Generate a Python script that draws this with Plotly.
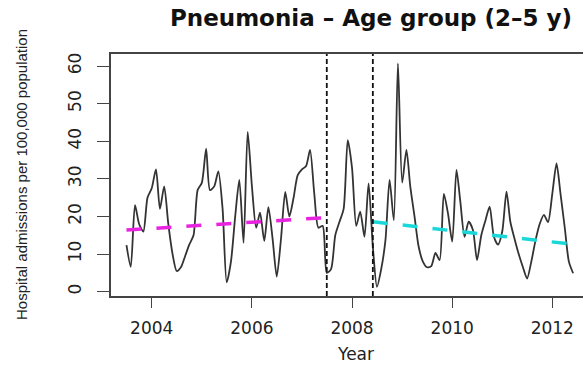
import numpy as np
import pandas as pd
import plotly.graph_objects as go

# Monthly hospital admissions for pneumonia, children aged 2-5 years,
# per 100,000 population, July 2003 - June 2012
admissions = [
    12.4, 6.6, 23.0, 18.0, 16.0, 25.0, 27.5, 32.5, 22.0, 28.0, 18.0, 10.0,
    5.5, 6.5, 9.5, 12.5, 15.0, 27.0, 29.0, 38.0, 27.0, 28.0, 32.0, 22.0,
    2.5, 8.0, 20.0, 29.7, 13.0, 42.5, 28.0, 17.0, 21.0, 13.5, 22.5, 14.0,
    4.0, 14.0, 26.5, 20.0, 25.0, 31.0, 32.5, 33.5, 37.7, 26.0, 17.0, 17.5,
    5.0, 6.0, 15.0, 18.5, 22.0, 40.3, 33.0, 17.5, 21.3, 14.6, 28.8, 12.0,
    1.3, 6.0, 13.7, 29.7, 19.0, 60.7, 29.0, 37.7, 28.0, 20.0, 12.0, 8.0,
    6.5, 6.8, 10.3, 8.4, 26.0, 20.8, 13.3, 32.4, 24.0, 14.6, 18.6, 16.4,
    8.4, 15.0, 19.0, 22.6, 14.6, 12.5, 16.0, 26.6, 18.6, 14.0, 10.0, 6.5,
    3.5, 8.0, 13.7, 18.0, 20.4, 18.5, 26.0, 34.1, 26.0, 17.0, 8.0, 4.9,
]
months = pd.date_range("2003-07-01", periods=len(admissions), freq="MS")

# Linear trends before and after the intervention period
trend_pre_dates = ["2003-07-01", "2007-07-01"]
trend_pre_values = [16.4, 19.7]
trend_post_dates = ["2008-06-01", "2012-06-01"]
trend_post_values = [18.6, 12.6]

# Start and end of the intervention period
intervention_dates = ["2007-07-01", "2008-06-01"]

x_tick_years = [2004, 2006, 2008, 2010, 2012]
y_tick_values = [0, 10, 20, 30, 40, 50, 60]

W, H = 583, 368
ML, MR, MT, MB = 111, 0, 54, 72
PW, PH = W - ML - MR, H - MT - MB


def px_x(px):
    return (px - ML) / PW


def px_y(py):
    return (H - MB - py) / PH


fig = go.Figure()

fig.add_trace(go.Scatter(
    x=months, y=admissions, mode="lines",
    line=dict(color="#333333", width=1.8, shape="spline", smoothing=0.7),
    hoverinfo="skip", showlegend=False,
))
fig.add_trace(go.Scatter(
    x=trend_pre_dates, y=trend_pre_values, mode="lines",
    line=dict(color="#e824e0", width=3.5, dash="15px,15px"),
    hoverinfo="skip", showlegend=False,
))
fig.add_trace(go.Scatter(
    x=trend_post_dates, y=trend_post_values, mode="lines",
    line=dict(color="#1ad8da", width=3.5, dash="15px,15px"),
    hoverinfo="skip", showlegend=False,
))

for d in intervention_dates:
    fig.add_shape(
        type="line", xref="x", yref="paper", x0=d, x1=d, y0=0, y1=1,
        line=dict(color="#111111", width=1.8, dash="5px,3px"),
    )

axis_color = "#444444"
tick_font = dict(family="DejaVu Sans", size=17, color="#222222")

fig.update_layout(
    width=W, height=H,
    margin=dict(l=ML, r=MR, t=MT, b=MB, pad=0),
    paper_bgcolor="white", plot_bgcolor="white",
    title=dict(
        text="<b>Pneumonia – Age group (2–5 y)</b>",
        font=dict(family="DejaVu Sans", size=23, color="#111111"),
        xref="paper", x=px_x(371), xanchor="center",
        yref="container", y=1 - 18 / H, yanchor="middle",
    ),
    xaxis=dict(
        type="date",
        range=["2003-03-10", "2012-08-12"],
        tickvals=[f"{y}-01-01" for y in x_tick_years],
        ticktext=[str(y) for y in x_tick_years],
        ticks="outside", ticklen=10, tickwidth=1.3, tickcolor=axis_color,
        showline=True, linecolor=axis_color, linewidth=1.5, mirror=True,
        showgrid=False, zeroline=False,
        tickfont=tick_font, ticklabelstandoff=6,
    ),
    yaxis=dict(
        range=[-1.15, 63.2],
        tickvals=y_tick_values,
        ticktext=[str(v) for v in y_tick_values],
        tickangle=-90,
        ticks="outside", ticklen=12, tickwidth=1.3, tickcolor=axis_color,
        showline=True, linecolor=axis_color, linewidth=1.5, mirror=False,
        showgrid=False, zeroline=False,
        tickfont=tick_font, ticklabelstandoff=9,
    ),
    annotations=[
        dict(text="Year", xref="paper", yref="paper",
             x=px_x(355), y=px_y(354), xanchor="center", yanchor="middle",
             showarrow=False,
             font=dict(family="DejaVu Sans", size=17, color="#222222")),
        dict(text="Hospital admissions per 100,000 population",
             xref="paper", yref="paper",
             x=px_x(21), y=px_y(175), xanchor="center", yanchor="middle",
             textangle=-90, showarrow=False,
             font=dict(family="Liberation Sans", size=15, color="#222222")),
    ],
)

fig.write_html("out.html")
